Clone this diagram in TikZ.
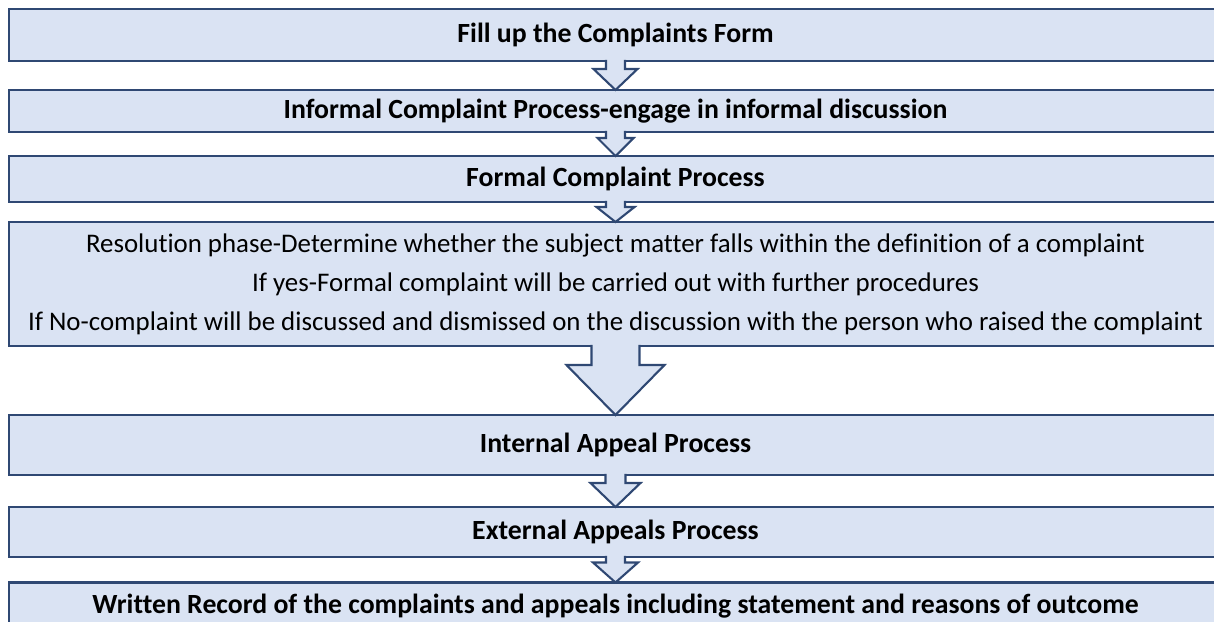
\documentclass[tikz,border=0pt]{standalone}
\usepackage{fontspec}
\setmainfont{Carlito}[Ligatures=NoCommon]
\usepackage{tikz}
\usetikzlibrary{calc}
\definecolor{boxfill}{RGB}{218,227,243}
\definecolor{boxline}{RGB}{47,72,115}
\tikzstyle{stage}=[draw=boxline,fill=boxfill,line width=1.2pt,minimum width=24.26cm,inner sep=2pt,outer sep=0pt,font=\fontsize{15.8}{19}\selectfont\bfseries]
\tikzstyle{phase}=[stage,font=\fontsize{15.3}{22.2}\selectfont,align=center]
\tikzstyle{blockarrow}=[draw=boxline,fill=boxfill,line width=1.2pt,line join=miter]
% block arrow from the bottom of #1 to the top of #2
\newcommand{\flowarrow}[5]{%
  \path[blockarrow] let \p1=(#1.south), \p2=(#2.north) in
    (\x1-#3,\y1+0.6pt) -- (\x1-#3,\y2+#5) -- (\x1-#4,\y2+#5) -- (\x2,\y2)
    -- (\x1+#4,\y2+#5) -- (\x1+#3,\y2+#5) -- (\x1+#3,\y1+0.6pt);
}

\begin{document}
\begin{tikzpicture}[x=0.02cm,y=-0.02cm]
  \useasboundingbox (0,0) rectangle (1214,622);
  \clip (0,0) rectangle (1214,622);
  % stages
  \node[stage,minimum height=1.04cm] (form) at (615.5,35) {Fill up the Complaints Form};
  \node[stage,minimum height=0.84cm] (informal) at (615.5,111) {Informal Complaint Process-engage in informal discussion};
  \node[stage,minimum height=0.92cm] (formal) at (615.5,179) {Formal Complaint Process};
  \node[phase,minimum height=2.48cm] (resolution) at (615.5,284) {Resolution phase-Determine whether the subject matter falls within the definition of a complaint\\
    If yes-Formal complaint will be carried out with further procedures\\
    If No-complaint will be discussed and dismissed on the discussion with the person who raised the complaint};
  \node[stage,minimum height=1.2cm] (internal) at (615.5,445) {Internal Appeal Process};
  \node[stage,minimum height=1.0cm] (external) at (615.5,532) {External Appeals Process};
  \node[stage,minimum height=0.94cm] (record) at (615.5,606) {Written Record of the complaints and appeals including statement and reasons of outcome};
  % arrows
  \flowarrow{form}{informal}{0.19cm}{0.44cm}{0.42cm}
  \flowarrow{informal}{formal}{0.19cm}{0.36cm}{0.36cm}
  \flowarrow{formal}{resolution}{0.19cm}{0.38cm}{0.3cm}
  \flowarrow{resolution}{internal}{0.48cm}{0.98cm}{1.0cm}
  \flowarrow{internal}{external}{0.2cm}{0.5cm}{0.48cm}
  \flowarrow{external}{record}{0.19cm}{0.45cm}{0.4cm}
\end{tikzpicture}
\end{document}
